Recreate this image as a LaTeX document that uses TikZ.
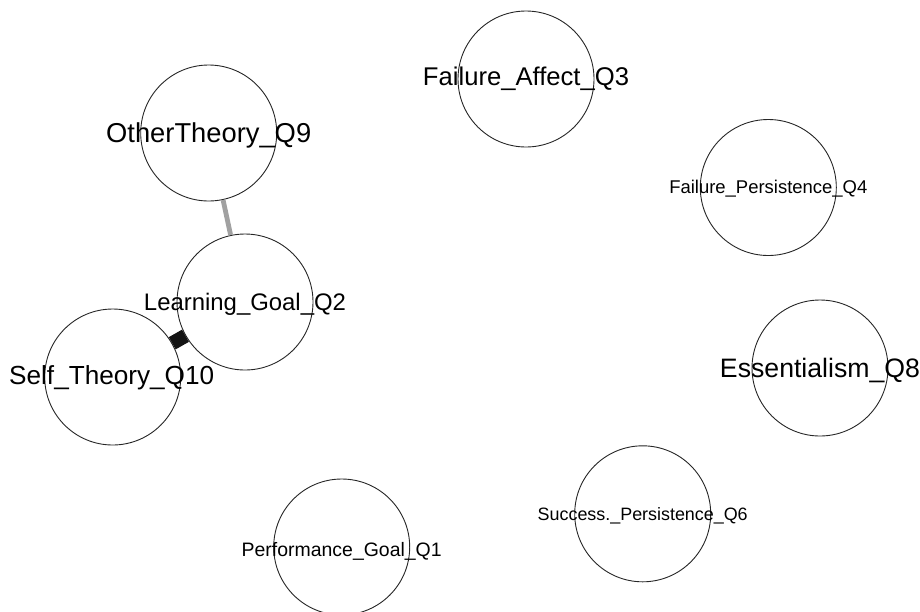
\documentclass[tikz,border=0pt]{standalone}
\usepackage{fontspec}
\setmainfont{Liberation Sans}
\usepackage{graphicx}
\begin{document}
\begin{tikzpicture}[x=1pt,y=-1pt,
  vnode/.style={circle,draw=black!85,line width=0.9pt,fill=white,minimum size=136pt,inner sep=0pt},
  vlabel/.style={inner sep=0pt,text=black},
  posedge/.style={line width=14pt,draw=black!92},
  weakedge/.style={line width=4.8pt,draw=black!37}]
\useasboundingbox (0,0) rectangle (920,611);
\begin{scope}
\clip (0,0) rectangle (920,611);
% node circles (positions first)
\coordinate (cQ9) at (208.7,133);
\coordinate (cQ3) at (526,79);
\coordinate (cQ4) at (768.3,187.5);
\coordinate (cQ2) at (245,302);
\coordinate (cQ10) at (112.7,377);
\coordinate (cQ8) at (820,368);
\coordinate (cQ6) at (642.7,513.8);
\coordinate (cQ1) at (341.7,547);
\node[vnode] (Q9) at (cQ9) {};
\node[vnode] (Q3) at (cQ3) {};
\node[vnode] (Q4) at (cQ4) {};
\node[vnode] (Q2) at (cQ2) {};
\node[vnode] (Q10) at (cQ10) {};
\node[vnode] (Q8) at (cQ8) {};
\node[vnode] (Q6) at (cQ6) {};
\node[vnode] (Q1) at (cQ1) {};
% edges
\draw[weakedge] (Q9) -- (Q2);
\draw[posedge] (Q10) -- (Q2);
% labels
\node[vlabel] (tQ9) at ([yshift=-2pt]cQ9) {\resizebox{205pt}{!}{OtherTheory\_Q9}};
\node[vlabel] (tQ3) at ([yshift=0pt]cQ3) {\resizebox{206pt}{!}{Failure\_Affect\_Q3}};
\node[vlabel] (tQ4) at ([yshift=-1.5pt]cQ4) {\resizebox{198pt}{!}{Failure\_Persistence\_Q4}};
\node[vlabel] (tQ2) at ([yshift=-2pt]cQ2) {\resizebox{202pt}{!}{Learning\_Goal\_Q2}};
\node[vlabel] (tQ10) at ([xshift=-1pt,yshift=-1pt]cQ10) {\resizebox{205pt}{!}{Self\_Theory\_Q10}};
\node[vlabel] (tQ8) at ([yshift=-2pt]cQ8) {\resizebox{200pt}{!}{Essentialism\_Q8}};
\node[vlabel] (tQ6) at ([yshift=-1.5pt]cQ6) {\resizebox{210pt}{!}{Success.\_Persistence\_Q6}};
\node[vlabel] (tQ1) at ([yshift=-4.5pt]cQ1) {\resizebox{200pt}{!}{Performance\_Goal\_Q1}};
\end{scope}
\end{tikzpicture}
\end{document}
